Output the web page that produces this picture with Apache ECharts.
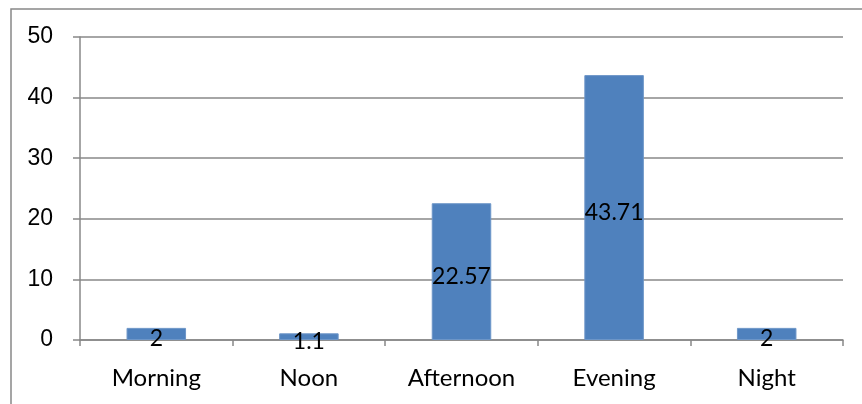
<!DOCTYPE html>
<html>
<head>
<meta charset="utf-8">
<script src="https://cdn.jsdelivr.net/npm/echarts@6/dist/echarts.min.js"></script>
<style>
  html, body { margin: 0; padding: 0; background: #fff; }
  #chart { width: 862px; height: 404px; }
</style>
</head>
<body>
<div id="chart"></div>
<script>
// data
const categories = ['Morning', 'Noon', 'Afternoon', 'Evening', 'Night'];
const values = [2, 1.1, 22.57, 43.71, 2];
const yTicks = [0, 10, 20, 30, 40, 50];

const chart = echarts.init(document.getElementById('chart'));

chart.setOption({
  animation: false,
  grid: { left: 80, right: 19, top: 37, bottom: 64 },
  graphic: [{
    type: 'rect',
    shape: { x: 11, y: 9, width: 900, height: 450 },
    style: { fill: 'none', stroke: '#888', lineWidth: 1.5 },
    silent: true
  }],
  xAxis: {
    type: 'category',
    data: categories,
    axisLine: { show: true, lineStyle: { color: '#888', width: 1.5 } },
    axisTick: { show: true, length: 6, alignWithLabel: false, lineStyle: { color: '#888', width: 1.5 } },
    axisLabel: {
      color: '#000', fontSize: 24, fontFamily: 'Lato', margin: 26
    }
  },
  yAxis: {
    type: 'value',
    min: yTicks[0],
    max: yTicks[yTicks.length - 1],
    interval: 10,
    axisLine: { show: true, lineStyle: { color: '#888', width: 1.5 } },
    axisTick: { show: true, length: 7, lineStyle: { color: '#888', width: 1.5 } },
    axisLabel: {
      color: '#000', fontSize: 23, fontFamily: 'Liberation Sans', margin: 27
    },
    splitLine: { show: true, lineStyle: { color: '#888', width: 1.5 } }
  },
  series: [{
    type: 'bar',
    data: values,
    barWidth: '39%',
    itemStyle: { color: '#4F81BD', borderColor: '#6d96c8', borderWidth: 1 },
    label: {
      show: true,
      position: 'inside',
      offset: [0, 5],
      color: '#000',
      fontSize: 23,
      fontFamily: 'Lato'
    }
  }]
});
</script>
</body>
</html>
